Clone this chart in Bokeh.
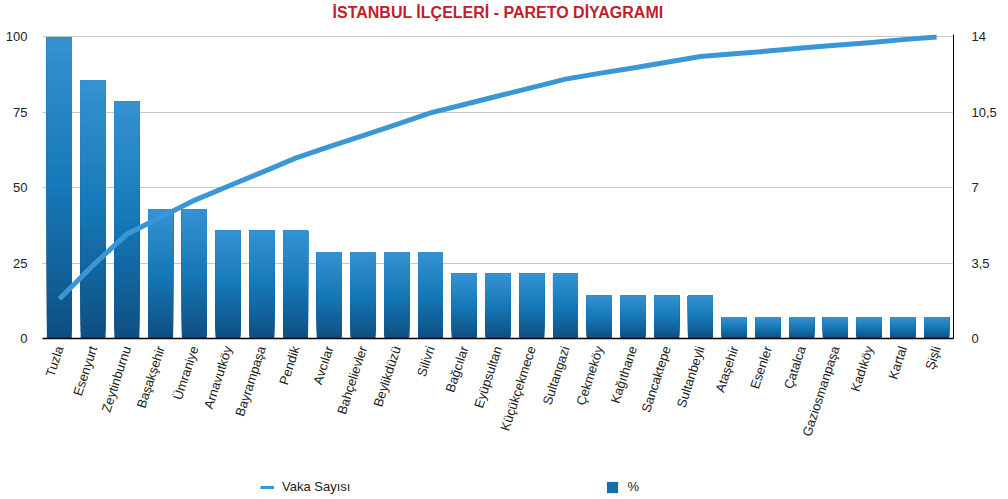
from bokeh.plotting import figure
from bokeh.layouts import column
from bokeh.models import (Range1d, LinearAxis, FactorRange, Legend, LegendItem,
                          ColumnDataSource, FixedTicker, Label)
from bokeh.embed import file_html
from bokeh.resources import INLINE

districts = ["Tuzla", "Esenyurt", "Zeytinburnu", "Başakşehir", "Ümraniye", "Arnavutköy",
             "Bayrampaşa", "Pendik", "Avcılar", "Bahçelievler", "Beylikdüzü", "Silivri",
             "Bağcılar", "Eyüpsultan", "Küçükçekmece", "Sultangazi", "Çekmeköy", "Kağıthane",
             "Sancaktepe", "Sultanbeyli", "Ataşehir", "Esenler", "Çatalca", "Gaziosmanpaşa",
             "Kadıköy", "Kartal", "Şişli"]
cases = [14, 12, 11, 6, 6, 5, 5, 5, 4, 4, 4, 4, 3, 3, 3, 3, 2, 2, 2, 2, 1, 1, 1, 1, 1, 1, 1]
cum_pct = [13.1, 24.3, 34.6, 40.2, 45.8, 50.5, 55.1, 59.8, 63.6, 67.3, 71.0, 74.8, 77.6, 80.4,
           83.2, 86.0, 87.9, 89.7, 91.6, 93.5, 94.4, 95.3, 96.3, 97.2, 98.1, 99.1, 100.0]
left_ticks = [0, 25, 50, 75, 100]
right_ticks = [0, 3.5, 7, 10.5, 14]
right_labels = ["0", "3,5", "7", "10,5", "14"]
title_text = "İSTANBUL İLÇELERİ - PARETO DİYAGRAMI"

FONT = "Liberation Sans"
TOP = 100.8
W = 1008
H0 = 22
H1 = 448
H2 = 26
LINE_C = "#3a97d6"

def strip(h):
    f = figure(width=W, height=h, output_backend="svg", toolbar_location=None,
               x_range=Range1d(0, 1), y_range=Range1d(0, 1),
               min_border=0, min_border_left=0, min_border_right=0,
               min_border_top=0, min_border_bottom=0)
    f.axis.visible = False
    f.grid.visible = False
    f.outline_line_color = None
    return f

# title strip
tf = strip(H0)
tf.add_layout(Label(x=0.5, y=0.45, text=title_text, text_align="center",
                    text_baseline="middle", text_font=FONT, text_font_size="16px",
                    text_font_style="bold", text_color="#c1202b"))

p = figure(x_range=FactorRange(*districts), y_range=Range1d(0, TOP),
           width=W, height=H1, output_backend="svg", toolbar_location=None,
           min_border_left=42, min_border_right=W - 953, min_border_top=12,
           min_border_bottom=H1 - (338 - H0))
p.extra_y_ranges = {"n": Range1d(0, 14 * TOP / 100)}
p.outline_line_color = None

# gradient bars via overlapping slices (each from its level up to the bar top)
N = 40
def lerp(c1, c2, t):
    return tuple(int(round(a + (b - a) * t)) for a, b in zip(c1, c2))
bottom_c = (14, 78, 128)
mid_c = (22, 120, 184)
top_c = (54, 146, 210)
def grad(t):
    if t < 0.5:
        c = lerp(bottom_c, mid_c, t / 0.5)
    else:
        c = lerp(mid_c, top_c, (t - 0.5) / 0.5)
    return "#%02x%02x%02x" % c

xs, tops, bots, cols = [], [], [], []
for k in range(N):
    for d, v in zip(districts, cases):
        xs.append(d)
        bots.append(v * k / N)
        tops.append(v)
        cols.append(grad((k + 0.5) / N))
src = ColumnDataSource(dict(x=xs, top=tops, bottom=bots, c=cols))
p.vbar(x="x", top="top", bottom="bottom", width=0.74, source=src,
       fill_color="c", line_color=None, y_range_name="n")

p.line(districts, cum_pct, line_color=LINE_C, line_width=5, line_join="miter")

# axes
ax = p.yaxis[0]
ax.ticker = FixedTicker(ticks=left_ticks)
ax.axis_line_color = None
ax.major_tick_line_color = None
ax.major_tick_out = 0
ax.major_tick_in = 0
ax.minor_tick_line_color = None
ax.major_label_text_font = FONT
ax.major_label_text_font_size = "13px"
ax.major_label_text_color = "#222222"
ax.major_label_standoff = 15

rax = LinearAxis(y_range_name="n", ticker=FixedTicker(ticks=right_ticks),
                 major_label_overrides={t: l for t, l in zip(right_ticks, right_labels)})
rax.axis_line_color = "black"
rax.major_tick_line_color = None
rax.major_tick_out = 0
rax.major_tick_in = 0
rax.minor_tick_line_color = None
rax.major_label_text_font = FONT
rax.major_label_text_font_size = "13px"
rax.major_label_text_color = "#222222"
rax.major_label_standoff = 18
p.add_layout(rax, "right")

xa = p.xaxis[0]
xa.axis_line_color = "black"
xa.axis_line_width = 1.5
xa.major_tick_line_color = None
xa.major_tick_out = 0
xa.major_tick_in = 0
xa.minor_tick_line_color = None
xa.major_label_orientation = 1.257
xa.major_label_text_font = FONT
xa.major_label_text_font_size = "13px"
xa.major_label_text_color = "#222222"
xa.major_label_standoff = 8

p.xgrid.grid_line_color = None
p.ygrid.ticker = FixedTicker(ticks=left_ticks)
p.ygrid.grid_line_color = "#c8c8c8"

# legend strip (legend renderers hold points far outside the view)
lf = strip(H2)
lr = lf.line([-6, -5], [-6, -5], line_color=LINE_C, line_width=3)
br = lf.vbar(x=[-5], top=[-5], bottom=[-6], width=0.5, fill_color="#1a6fab", line_color=None)
legend = Legend(items=[LegendItem(label="Vaka Sayısı", renderers=[lr]),
                       LegendItem(label="%", renderers=[br])],
                orientation="horizontal", location=(218, 2),
                spacing=255, padding=0, margin=0, border_line_color=None,
                background_fill_alpha=0, glyph_width=14, glyph_height=14,
                label_standoff=8, label_text_font=FONT, label_text_font_size="13px",
                label_text_color="#222222")
lf.add_layout(legend)

layout = column(tf, p, lf, spacing=0)
open("out.html", "w").write(file_html(layout, INLINE))
